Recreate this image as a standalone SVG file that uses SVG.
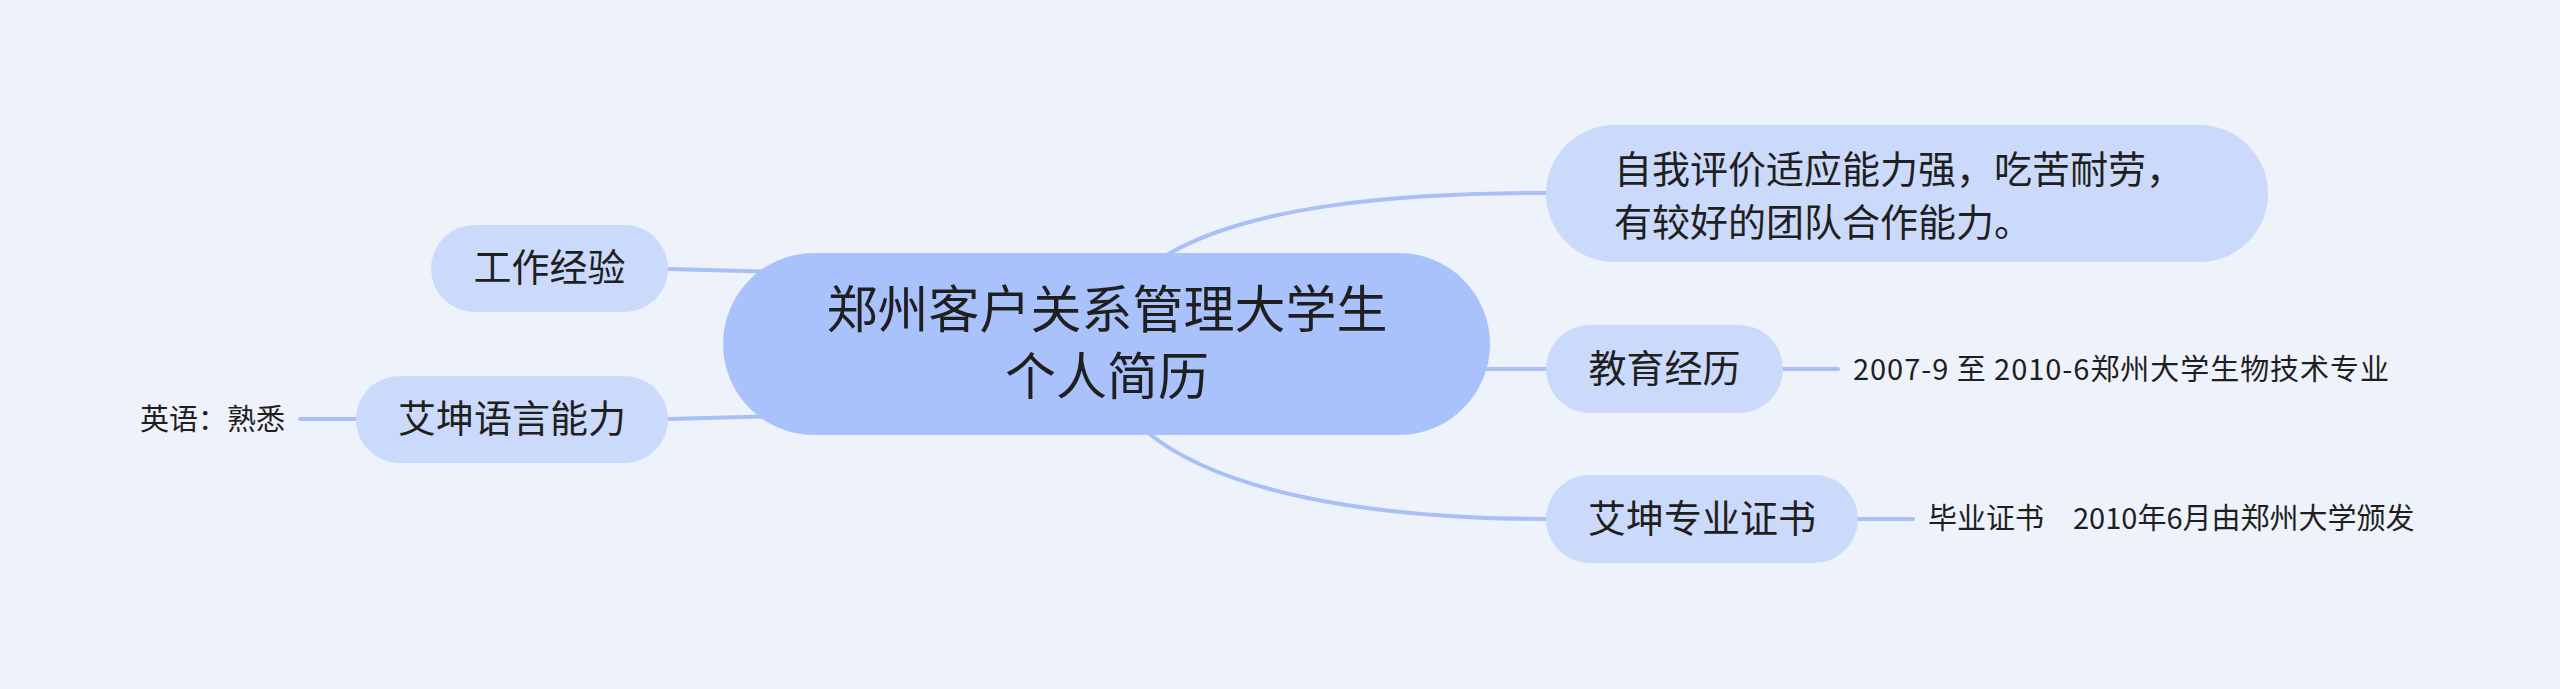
<svg xmlns="http://www.w3.org/2000/svg" width="2560" height="689" viewBox="0 0 2560 689">
<style>
.t{font-family:"Noto Sans CJK SC","Noto Sans",sans-serif;fill:#1f1f1f}
.c{font-size:51px;text-anchor:middle}
.s{font-size:38px}
.m{text-anchor:middle}
.l{font-size:29px}
.main{fill:#a9c2fc}
.sub{fill:#cbdafa}
.conn path{fill:none;stroke:#a8c0f5;stroke-width:4;stroke-linecap:round}
</style>
<rect width="2560" height="689" fill="#eef2fa"/>
<g class="conn" id="connectors">
<path d="M668 269 L780 272"/>
<path d="M668 419 L780 416"/>
<path d="M1165 256 C1250 205 1400 193 1547 193"/>
<path d="M1400 369 L1546 369"/>
<path d="M1147 432 C1230 500 1400 519 1547 519"/>
<path d="M1783 369 L1838 369"/>
<path d="M1858 519 L1913 519"/>
<path d="M300 419 L356 419"/>
</g>
<g id="central">
<rect class="main" x="723" y="253" width="767" height="182" rx="91"/>
<text class="t c" x="1107" y="328">郑州客户关系管理大学生</text>
<text class="t c" x="1107" y="395">个人简历</text>
</g>
<g id="n-self">
<rect class="sub" x="1546" y="125" width="722" height="137" rx="68.5"/>
<text class="t s" x="1614" y="183">自我评价适应能力强，吃苦耐劳，</text>
<text class="t s" x="1614" y="236">有较好的团队合作能力。</text>
</g>
<g id="n-edu">
<rect class="sub" x="1546" y="325" width="237" height="88" rx="44"/>
<text class="t s m" x="1664.5" y="382">教育经历</text>
</g>
<g id="n-edu-c">
<text class="t l" x="1853" y="380" textLength="536" lengthAdjust="spacing">2007-9 至 2010-6郑州大学生物技术专业</text>
</g>
<g id="n-cert">
<rect class="sub" x="1546" y="475" width="312" height="88" rx="44"/>
<text class="t s m" x="1702" y="532">艾坤专业证书</text>
</g>
<g id="n-cert-c">
<text class="t l" x="1928" y="529">毕业证书<tspan x="2073">2010年6月由郑州大学颁发</tspan></text>
</g>
<g id="n-work">
<rect class="sub" x="431" y="225" width="237" height="87" rx="43.5"/>
<text class="t s m" x="549.5" y="281">工作经验</text>
</g>
<g id="n-lang">
<rect class="sub" x="356" y="376" width="312" height="87" rx="43.5"/>
<text class="t s m" x="512" y="432">艾坤语言能力</text>
</g>
<g id="n-lang-c">
<text class="t l" x="140" y="430">英语：熟悉</text>
</g>
</svg>
